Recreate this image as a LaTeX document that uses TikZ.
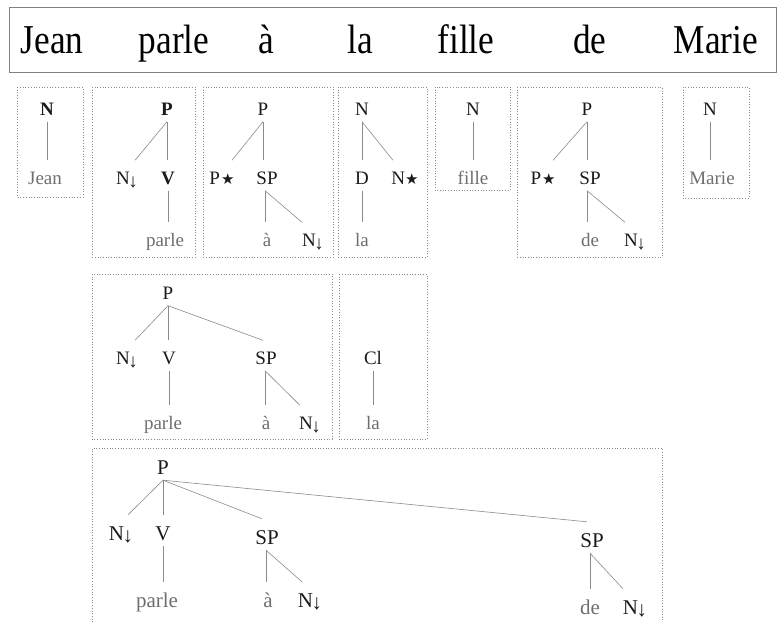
\documentclass[tikz,border=0pt]{standalone}
\usepackage{fontspec}
\usepackage{graphicx}
\setmainfont{Liberation Serif}
\newfontfamily\symfont{DejaVu Sans}
\definecolor{lab}{HTML}{1A1A1A}
\definecolor{leafc}{HTML}{6E6E6E}
\definecolor{linec}{HTML}{8A8A8A}
\definecolor{boxc}{HTML}{8C8C8C}
\newcommand\Ndown{N\kern-1.5pt\raisebox{-2.5pt}{↓}}
\newcommand\Pstar{P\kern1pt{\symfont\fontsize{15}{15}\selectfont ★}}
\newcommand\Nstar{N{\symfont\fontsize{15}{15}\selectfont ★}}
\newcommand\Word[1]{\scalebox{0.86}[1]{#1}}
\newcommand\edge[3][0pt]{\draw[br] ([yshift=-6pt]#2.south) -- ([xshift=#1,yshift=11pt]#3.north);}
\newcommand\vedge[2]{\draw[br] ([yshift=-6pt]#1.south) -- ([yshift=11pt]#1.south |- #2.north);}
\tikzset{
 lbl/.style={inner sep=0pt, text height=13pt, text depth=0pt, font=\fontsize{19}{19}\selectfont, text=lab},
 big/.style={inner sep=0pt, text height=14pt, text depth=0pt, font=\fontsize{21}{21}\selectfont, text=lab},
 leaf/.style={lbl, text=leafc},
 bleaf/.style={big, text=leafc},
 bld/.style={lbl, font=\fontsize{19}{19}\selectfont\bfseries},
 br/.style={draw=linec, line width=0.6pt},
 frame/.style={draw=boxc, dotted, line width=0.7pt},
 word/.style={inner sep=0pt, font=\fontsize{41}{41}\selectfont, text=black, anchor=base},
}
\begin{document}
\begin{tikzpicture}[x=1pt,y=-1pt]
\useasboundingbox (0,0) rectangle (778,622);
% sentence
\draw[draw=gray, line width=0.8pt] (9,7) rectangle (776,72);
\node[word] (w1) at (52,53) {\Word{Jean}};
\node[word] (w2) at (174,53) {\Word{parle}};
\node[word] (w3) at (266,53) {\Word{à}};
\node[word] (w4) at (360,53) {\Word{la}};
\node[word] (w5) at (466,53) {\Word{fille}};
\node[word] (w6) at (590,53) {\Word{de}};
\node[word] (w7) at (716,53) {\Word{Marie}};
% row 1 frames
\draw[frame] (17,87) rectangle (83,197);
\draw[frame] (92,87) rectangle (195,257);
\draw[frame] (203,87) rectangle (333,257);
\draw[frame] (338,87) rectangle (427,257);
\draw[frame] (435,87) rectangle (510,190);
\draw[frame] (517,87) rectangle (662,257);
\draw[frame] (683,87) rectangle (749,198);
% box 1
\node[bld] (a1) at (47,109) {N};
\node[leaf] (a2) at (45,178) {Jean};
\vedge{a1}{a2}
% box 2
\node[bld] (b1) at (167,109) {P};
\node[lbl] (b2) at (127,178) {\Ndown};
\node[bld] (b3) at (168,178) {V};
\node[leaf] (b4) at (165,240) {parle};
\edge[8pt]{b1}{b2}
\vedge{b1}{b3}
\vedge{b3}{b4}
% box 3
\node[lbl] (c1) at (263,109) {P};
\node[lbl] (c2) at (222,178) {\Pstar};
\node[lbl] (c3) at (267,178) {SP};
\node[leaf] (c4) at (267,240) {à};
\node[lbl] (c5) at (313,240) {\Ndown};
\edge[10pt]{c1}{c2}
\vedge{c1}{c3}
\draw[br] ([xshift=-2pt,yshift=-6pt]c3.south) -- ([xshift=-2pt,yshift=11pt]c3.south |- c4.north);
\draw[br] ([xshift=-2pt,yshift=-6pt]c3.south) -- ([xshift=-11pt,yshift=11pt]c5.north);
% box 4
\node[lbl] (d1) at (362,109) {N};
\node[lbl] (d2) at (362,178) {D};
\node[lbl] (d3) at (405,178) {\Nstar};
\node[leaf] (d4) at (362,240) {la};
\vedge{d1}{d2}
\edge[-12pt]{d1}{d3}
\vedge{d2}{d4}
% box 5
\node[lbl] (e1) at (473,109) {N};
\node[leaf] (e2) at (473,178) {fille};
\vedge{e1}{e2}
% box 6
\node[lbl] (f1) at (587,109) {P};
\node[lbl] (f2) at (543,178) {\Pstar};
\node[lbl] (f3) at (590,178) {SP};
\node[leaf] (f4) at (590,240) {de};
\node[lbl] (f5) at (635,240) {\Ndown};
\edge[10pt]{f1}{f2}
\vedge{f1}{f3}
\draw[br] ([xshift=-3pt,yshift=-6pt]f3.south) -- ([xshift=-3pt,yshift=11pt]f3.south |- f4.north);
\draw[br] ([xshift=-3pt,yshift=-6pt]f3.south) -- ([xshift=-10pt,yshift=11pt]f5.north);
% box 7
\node[lbl] (g1) at (710,109) {N};
\node[leaf] (g2) at (712,178) {Marie};
\vedge{g1}{g2}
% row 2 frames
\draw[frame] (92,274) rectangle (332,439);
\draw[frame] (339,274) rectangle (427,439);
\node[lbl] (h1) at (168,293) {P};
\node[lbl] (h2) at (127,358) {\Ndown};
\node[lbl] (h3) at (169,358) {V};
\node[lbl] (h4) at (266,358) {SP};
\node[leaf] (h5) at (163,423) {parle};
\node[leaf] (h6) at (266,423) {à};
\node[lbl] (h7) at (310,423) {\Ndown};
\edge[8pt]{h1}{h2}
\vedge{h1}{h3}
\edge[-3pt]{h1}{h4}
\vedge{h3}{h5}
\draw[br] ([xshift=-1pt,yshift=-6pt]h4.south) -- ([xshift=-1pt,yshift=11pt]h4.south |- h6.north);
\draw[br] ([xshift=-1pt,yshift=-6pt]h4.south) -- ([xshift=-10pt,yshift=11pt]h7.north);
\node[lbl] (i1) at (373,358) {Cl};
\node[leaf] (i2) at (373,423) {la};
\vedge{i1}{i2}
% row 3 frame
\draw[frame] (92,622) -- (92,448) -- (662,448) -- (662,622);
\node[big] (k1) at (163,467) {P};
\node[big] (k2) at (121,533) {\Ndown};
\node[big] (k3) at (163,533) {V};
\node[big] (k4) at (267,537) {SP};
\node[big] (k5) at (592,540) {SP};
\node[bleaf] (k6) at (157,600) {parle};
\node[bleaf] (k7) at (268,600) {à};
\node[big] (k8) at (310,600) {\Ndown};
\node[bleaf] (k9) at (590,607) {de};
\node[big] (k10) at (635,607) {\Ndown};
\edge[7pt]{k1}{k2}
\vedge{k1}{k3}
\edge[-5pt]{k1}{k4}
\edge[-5pt]{k1}{k5}
\vedge{k3}{k6}
\draw[br] ([xshift=-1pt,yshift=-6pt]k4.south) -- ([xshift=-1pt,yshift=11pt]k4.south |- k7.north);
\draw[br] ([xshift=-1pt,yshift=-6pt]k4.south) -- ([xshift=-8pt,yshift=11pt]k8.north);
\draw[br] ([xshift=-2pt,yshift=-6pt]k5.south) -- ([xshift=-2pt,yshift=11pt]k5.south |- k9.north);
\draw[br] ([xshift=-2pt,yshift=-6pt]k5.south) -- ([xshift=-12pt,yshift=11pt]k10.north);
\end{tikzpicture}
\end{document}
